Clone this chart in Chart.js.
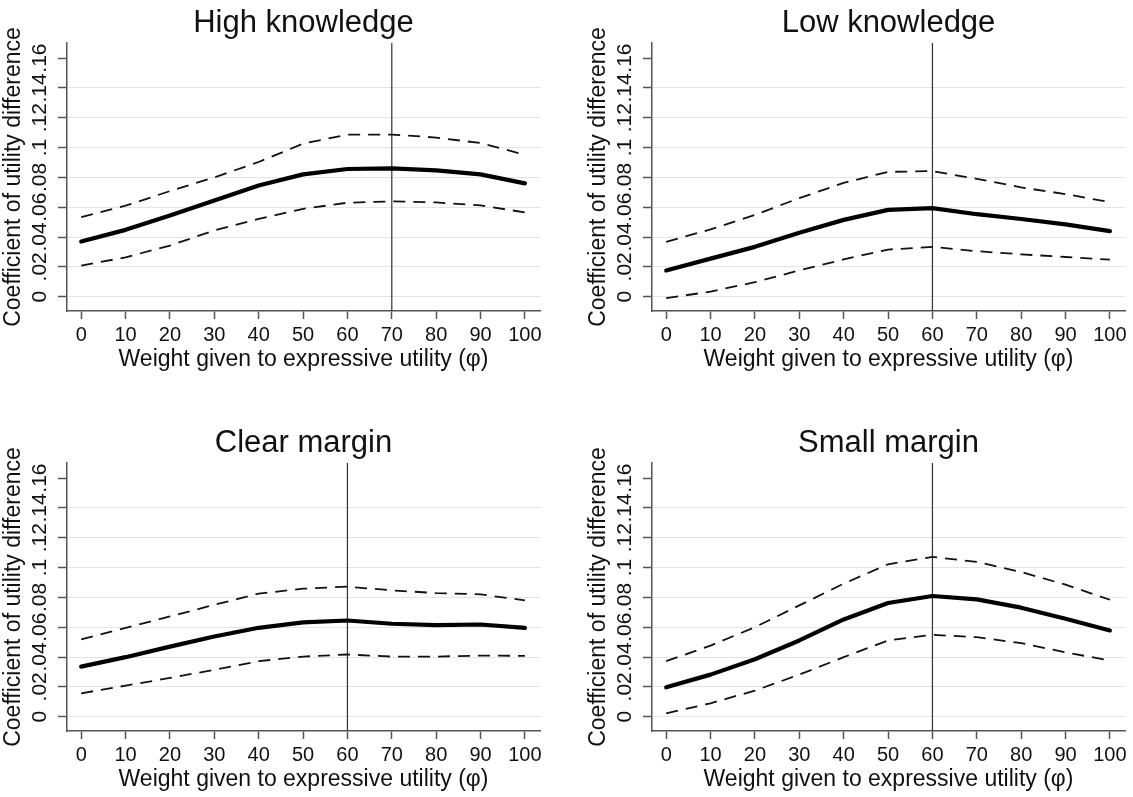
<!DOCTYPE html>
<html>
<head>
<meta charset="utf-8">
<script src="https://cdn.jsdelivr.net/npm/chart.js@4"></script>
<style>
  body { margin: 0; background: #fff; }
  .panel { position: absolute; }
</style>
</head>
<body>
<div class="panel" style="left:0px;top:0px"><canvas id="c1" width="548" height="400"></canvas></div>
<div class="panel" style="left:585px;top:0px"><canvas id="c2" width="548" height="400"></canvas></div>
<div class="panel" style="left:0px;top:420px"><canvas id="c3" width="548" height="400"></canvas></div>
<div class="panel" style="left:585px;top:420px"><canvas id="c4" width="548" height="400"></canvas></div>
<script>
// weight given to expressive utility
let phi = [0, 10, 20, 30, 40, 50, 60, 70, 80, 90, 100];
let yTickVals = [0, 0.02, 0.04, 0.06, 0.08, 0.1, 0.12, 0.14, 0.16];
let yTickLabels = ["0", ".02", ".04", ".06", ".08", ".1", ".12", ".14", ".16"];

// High knowledge
let highMid = [0.037, 0.0448, 0.0545, 0.0645, 0.0746, 0.082, 0.0856, 0.086, 0.0847, 0.082, 0.076];
let highUp  = [0.0533, 0.061, 0.0708, 0.080, 0.0903, 0.1026, 0.1087, 0.1087, 0.1067, 0.103, 0.0952];
let highLo  = [0.0208, 0.0264, 0.0343, 0.0444, 0.0522, 0.0589, 0.063, 0.0639, 0.0632, 0.0612, 0.0565];

// Low knowledge
let lowMid = [0.0176, 0.0255, 0.0334, 0.0429, 0.0515, 0.0582, 0.0594, 0.0553, 0.0521, 0.0485, 0.044];
let lowUp  = [0.0368, 0.0451, 0.0548, 0.0661, 0.0763, 0.0837, 0.0842, 0.079, 0.0733, 0.0688, 0.0634];
let lowLo  = [-0.001, 0.0034, 0.0097, 0.0176, 0.025, 0.0316, 0.0334, 0.0305, 0.0284, 0.0266, 0.0248];

// Clear margin
let clearMid = [0.0336, 0.0399, 0.047, 0.0538, 0.0596, 0.0632, 0.0645, 0.0623, 0.0614, 0.0618, 0.0596];
let clearUp  = [0.0518, 0.0596, 0.0672, 0.075, 0.0825, 0.0858, 0.0872, 0.0847, 0.0829, 0.082, 0.078];
let clearLo  = [0.0157, 0.0208, 0.026, 0.0314, 0.0372, 0.0403, 0.0417, 0.0403, 0.0403, 0.041, 0.0408];

// Small margin
let smallMid = [0.0197, 0.0282, 0.0385, 0.0511, 0.0652, 0.0762, 0.0809, 0.0787, 0.0731, 0.0657, 0.0578];
let smallUp  = [0.0372, 0.0477, 0.06, 0.0746, 0.0892, 0.1022, 0.1071, 0.1038, 0.097, 0.0885, 0.0784];
let smallLo  = [0.0022, 0.009, 0.0175, 0.0282, 0.0399, 0.0511, 0.0549, 0.0533, 0.0493, 0.0432, 0.0376];

let titles = ["High knowledge", "Low knowledge", "Clear margin", "Small margin"];
let vlines = [70, 60, 60, 60];

const FONT = '"Liberation Sans", Arial, Helvetica, sans-serif';
const Y_MIN = -0.0096, Y_MAX = 0.1701;

function pts(arr) {
    return arr.map((v, i) => ({ x: phi[i], y: v }));
}

const panelTitle = {
    id: "panelTitle",
    afterDraw(chart, args, opts) {
        let ctx = chart.ctx, a = chart.chartArea;
        ctx.save();
        ctx.font = "31px " + FONT;
        ctx.fillStyle = "#111";
        ctx.textAlign = "center";
        ctx.textBaseline = "alphabetic";
        ctx.fillText(opts.text, (a.left + a.right) / 2, 32);
        ctx.restore();
    }
};

function makeChart(id, title, mid, up, lo, vx) {
    let dashed = { borderColor: "#111", borderWidth: 1.8, borderDash: [12, 8], pointRadius: 0, tension: 0, fill: false };
    return new Chart(document.getElementById(id).getContext("2d"), {
        type: "line",
        data: {
            datasets: [
                Object.assign({ data: pts(up) }, dashed),
                Object.assign({ data: pts(lo) }, dashed),
                { data: pts(mid), borderColor: "#000", borderWidth: 4.2, pointRadius: 0, tension: 0,
                  borderJoinStyle: "round", borderCapStyle: "round", fill: false },
                { data: [{ x: vx, y: Y_MIN }, { x: vx, y: Y_MAX }], borderColor: "#333", borderWidth: 1.2, pointRadius: 0 }
            ]
        },
        options: {
            responsive: false,
            animation: false,
            events: [],
            layout: { padding: { top: 43, left: 0, right: 8, bottom: 27 } },
            plugins: {
                legend: { display: false },
                tooltip: { enabled: false },
                panelTitle: { text: title }
            },
            scales: {
                x: {
                    type: "linear",
                    min: -3.2,
                    max: 103.4,
                    afterBuildTicks: s => { s.ticks = phi.map(v => ({ value: v })); },
                    afterFit: s => { s.height = 62; },
                    grid: { drawOnChartArea: false, drawTicks: true, tickLength: 8, tickColor: "#555", tickWidth: 1.5 },
                    border: { display: true, color: "#555", width: 1.5 },
                    ticks: { font: { size: 20, family: FONT }, color: "#111", padding: 4, maxRotation: 0, autoSkip: false },
                    title: { display: true, text: "Weight given to expressive utility (φ)", font: { size: 23, family: FONT }, color: "#111", padding: 0 }
                },
                y: {
                    type: "linear",
                    min: Y_MIN,
                    max: Y_MAX,
                    afterBuildTicks: s => { s.ticks = yTickVals.map(v => ({ value: v })); },
                    afterFit: s => { s.width = 67; },
                    grid: {
                        color: c => (c.tick && c.tick.value > 0.15) ? "rgba(0,0,0,0)" : "#e4e4e4",
                        lineWidth: 1, drawTicks: true, tickLength: 9, tickColor: "#555", tickWidth: 1.5
                    },
                    border: { display: true, color: "#555", width: 1.5 },
                    ticks: {
                        minRotation: 90, maxRotation: 90, crossAlign: "center", padding: 3,
                        font: { size: 21, family: FONT }, color: "#111", autoSkip: false,
                        callback: (v, i) => yTickLabels[i]
                    },
                    title: { display: true, text: "Coefficient of utility difference", font: { size: 23, family: FONT }, color: "#111", padding: { top: 0, bottom: 0 } }
                }
            }
        },
        plugins: [panelTitle]
    });
}

makeChart("c1", titles[0], highMid, highUp, highLo, vlines[0]);
makeChart("c2", titles[1], lowMid, lowUp, lowLo, vlines[1]);
makeChart("c3", titles[2], clearMid, clearUp, clearLo, vlines[2]);
makeChart("c4", titles[3], smallMid, smallUp, smallLo, vlines[3]);
</script>
</body>
</html>
